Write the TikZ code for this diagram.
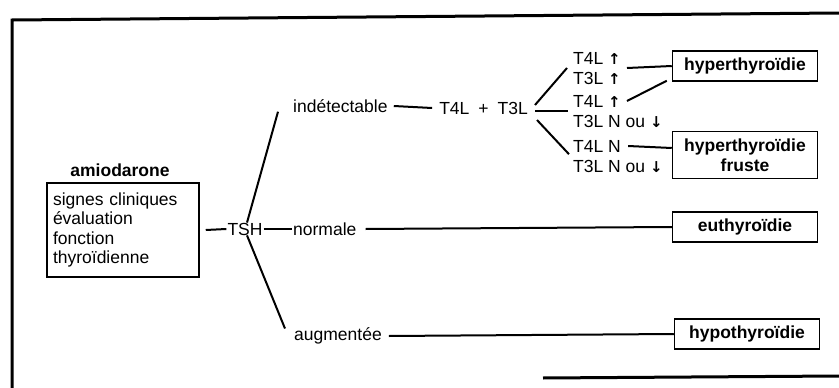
\documentclass[tikz,border=0pt]{standalone}
\usepackage{fontspec}
\setmainfont{Liberation Sans}
\newfontfamily\arrfont{DejaVu Sans}
\usetikzlibrary{calc}
\newcommand\fs{\fontsize{17.5}{19.5}\selectfont}
\newcommand\upa{{\arrfont\bfseries\fontsize{15}{15}\selectfont ↑}}
\newcommand\dna{{\arrfont\bfseries\fontsize{15}{15}\selectfont ↓}}
\tikzset{
  lbl/.style={font=\fs, inner sep=1pt},
  res/.style={draw, line width=1.5pt, font=\fs\bfseries, minimum width=145pt, minimum height=30pt, inner sep=2pt, align=center},
  con/.style={line width=2pt},
  frame/.style={line width=3pt}
}
\begin{document}
\begin{tikzpicture}[x=1pt,y=-1pt]
\useasboundingbox (0,0) rectangle (839,388);
% frame
\coordinate (ftr) at (839,13);
\coordinate (ftl) at (12,20);
\coordinate (fbl) at (12,388);
\coordinate (fb1) at (543,378);
\coordinate (fb2) at (839,376);
\draw[frame] (ftr) -- (ftl) -- (fbl);
\draw[frame] (fb1) -- (fb2);
% left
\node[lbl, font=\fs\bfseries] (amio) at (120,170) {amiodarone};
\node[draw, line width=1.5pt, minimum width=152pt, minimum height=94pt, align=left, font=\fs, text width=140pt, inner sep=4pt] (box) at (123,230) {signes cliniques\\évaluation\\fonction\\thyroïdienne};
\node[lbl] (tsh) at (245,229) {TSH};
\node[lbl, anchor=west] (norm) at (292,229) {normale};
\node[lbl, anchor=west] (ind) at (292,106) {indétectable};
\node[lbl, anchor=west] (aug) at (293,336) {augmentée};
\node[lbl, anchor=east] (t43) at (529,108) {T4L\hspace{9pt}+\hspace{9pt}T3L};
% stacks
\node[lbl, anchor=west] (p1a) at (572,58) {T4L \upa};
\node[lbl, anchor=west] (p1b) at (572,78) {T3L \upa};
\node[lbl, anchor=west] (p2a) at (572,101) {T4L \upa};
\node[lbl, anchor=west] (p2b) at (572,121) {T3L N ou \dna};
\node[lbl, anchor=west] (p3a) at (572,146) {T4L N};
\node[lbl, anchor=west] (p3b) at (572,166) {T3L N ou \dna};
% result boxes
\node[res] (hyper) at (745,66) {hyperthyroïdie};
\node[res, minimum height=47pt] (fruste) at (745,155) {hyperthyroïdie\\fruste};
\node[res] (eu) at (745,227) {euthyroïdie};
\node[res] (hypo) at (747,334) {hypothyroïdie};
% connectors (xshift/yshift are canvas shifts: positive yshift = up)
\draw[con] ([xshift=6pt]box.east) -- (tsh.west);
\draw[con] (tsh.east) -- (norm.west);
\draw[con] ([xshift=2pt,yshift=-1pt]tsh.north) -- ([xshift=-14pt,yshift=2pt]ind.south west);
\draw[con] ([xshift=2pt,yshift=1pt]tsh.south) -- ([xshift=-8pt,yshift=-2pt]aug.north west);
\draw[con] ([xshift=8pt]norm.east) -- (eu.west);
\draw[con] ([xshift=6pt]aug.east) -- (hypo.west);
\draw[con] ([xshift=5pt]ind.east) -- ([xshift=-6pt]t43.west);
\draw[con] ([xshift=6pt,yshift=3pt]t43.east) -- ($(p1a.west)!0.5!(p1b.west)+(-5pt,0)$);
\draw[con] ([xshift=6pt,yshift=-3pt]t43.east) -- ($(p2a.west)!0.5!(p2b.west)+(-4pt,0)$);
\draw[con] ([xshift=8pt,yshift=-12pt]t43.east) -- ([xshift=-3pt,yshift=-1pt]p3a.south west);
\draw[con] ($(p1a.east)!0.5!(p1b.east)+(5pt,0)$) -- (hyper.west);
\draw[con] ([xshift=5pt]p2a.east) -- ([xshift=-5pt,yshift=1pt]hyper.south west);
\draw[con] ([xshift=6pt]p3a.east) -- ([yshift=7pt]fruste.west);
\end{tikzpicture}
\end{document}
